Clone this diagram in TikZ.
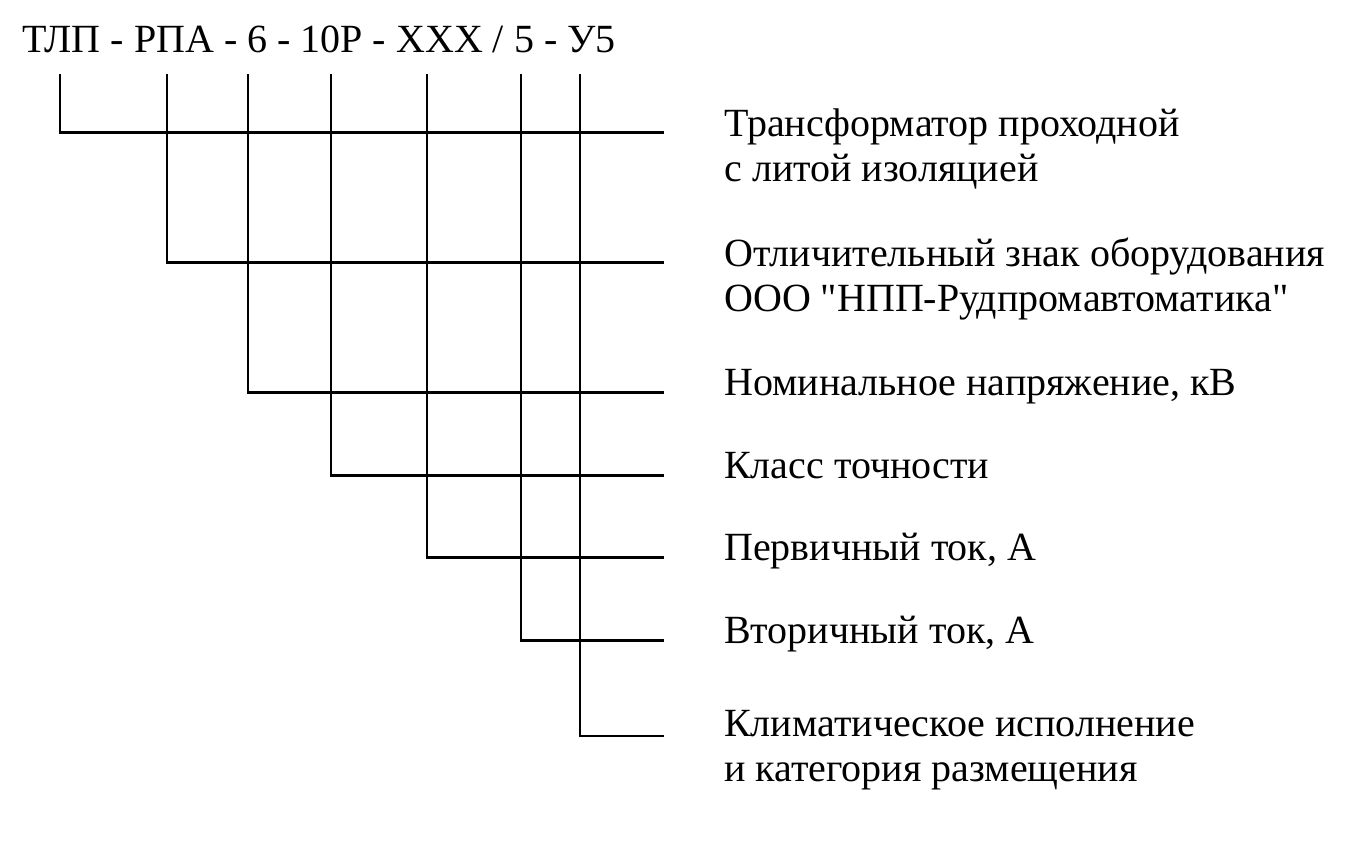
\documentclass[tikz,border=0pt]{standalone}
\usepackage{fontspec}
\setmainfont{Liberation Serif}
\begin{document}
\begin{tikzpicture}[x=1pt, y=-1pt, line width=2.6pt,
    lbl/.style={anchor=base west, inner sep=0pt, align=left,
                font=\fontsize{40}{45}\selectfont}]
\useasboundingbox (0,0) rectangle (1361,854);
\node[anchor=base west, inner sep=0pt, font=\fontsize{40}{45}\selectfont] (code) at (21,52)
    {ТЛП - РПА - 6 - 10Р - ХХХ / 5 - У5};
\foreach \i/\x/\y/\b/\t in {1/60/132.7/181/{Трансформатор проходной\\с литой изоляцией},
        2/167/262.7/311/{Отличительный знак оборудования\\ООО \textquotedbl НПП-Рудпромавтоматика\textquotedbl},
        3/248/392.7/395/{Номинальное напряжение, кВ},
        4/331/475.7/478/{Класс точности},
        5/427/557.7/560/{Первичный ток, А},
        6/521/640.7/643/{Вторичный ток, А},
        7/580/736/781/{Климатическое исполнение\\и категория размещения}}
    {\coordinate (top\i) at (\x, 74);
     \coordinate (end\i) at (664, \y);
     \node[lbl] (label\i) at (723, \b) {\t};
     \draw (top\i) |- (end\i);};
\end{tikzpicture}
\end{document}
